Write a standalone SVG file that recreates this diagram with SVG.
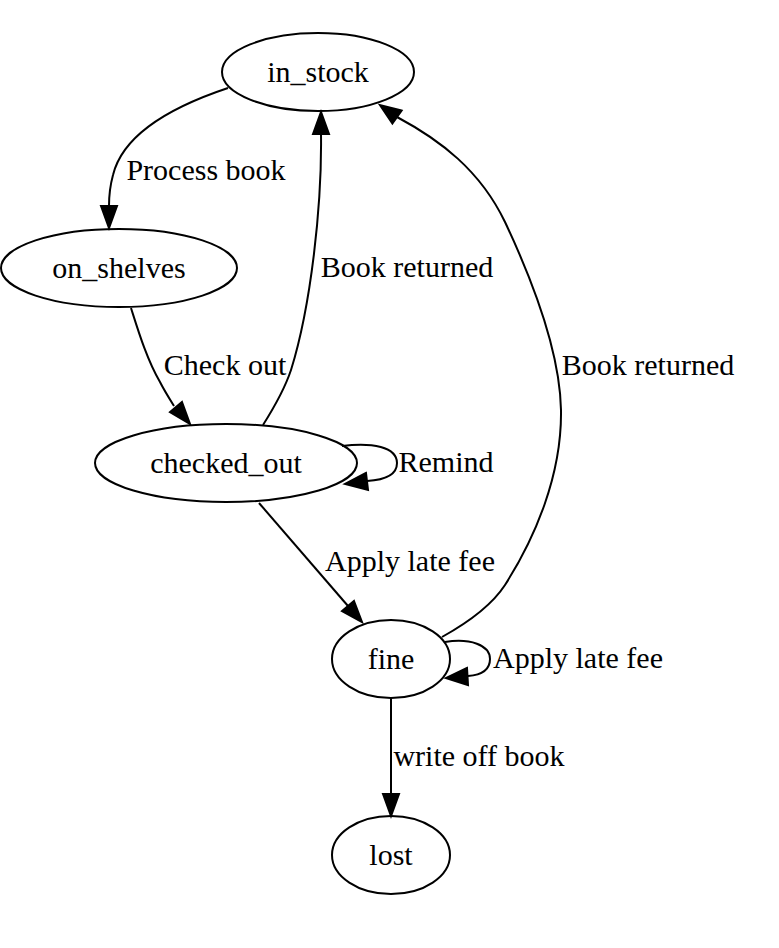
<svg xmlns="http://www.w3.org/2000/svg" width="779" height="948" viewBox="0 0 779 948">
<style>
.n ellipse{fill:none;stroke:#000;stroke-width:2}
text{font-family:'Times New Roman','Liberation Serif',Tinos,Times,'DejaVu Serif',serif;font-size:30px;fill:#000;text-anchor:middle}
.e path{fill:none;stroke:#000;stroke-width:2}
.e polygon{fill:#000;stroke:#000;stroke-width:2}
</style>
<rect width="779" height="948" fill="#fff"/>
<g id="in_stock" class="n"><ellipse cx="318" cy="72" rx="96" ry="39"/><text x="318" y="82">in_stock</text></g>
<g id="on_shelves" class="n"><ellipse cx="119" cy="268" rx="118" ry="39"/><text x="119" y="278">on_shelves</text></g>
<g id="checked_out" class="n"><ellipse cx="226" cy="463" rx="131" ry="39"/><text x="226" y="473">checked_out</text></g>
<g id="fine" class="n"><ellipse cx="391" cy="659" rx="59" ry="39"/><text x="391" y="669">fine</text></g>
<g id="lost" class="n"><ellipse cx="391" cy="855" rx="59" ry="39"/><text x="391" y="865">lost</text></g>
<g id="edges" class="e">
<path d="M228,88 C180,104 124,130 113,175 C110,186 109,196 109,206"/>
<polygon points="101,206 109,228 117,206"/>
<text x="206" y="180">Process book</text>
<path d="M131,308 C138,330 147,360 160,382 C164,390 169,398 174,406"/>
<polygon points="182,402 190,424 170,412"/>
<text x="225" y="375">Check out</text>
<path d="M263,425 C275,406 285,388 291,370 C311,306 322,205 321,134"/>
<polygon points="313,134 321,112 329,134"/>
<text x="407" y="277">Book returned</text>
<path d="M442,637 C460,627 490,608 505,585 C535,538 562,475 561,410 C560,355 537,290 505,222 C480,170 440,140 397,117"/>
<polygon points="401.6,110.5 380,105 392.4,123.5"/>
<text x="648" y="375">Book returned</text>
<path d="M342,446 C372,442 397,447 397,463 C397,475 384,480 367,481"/>
<polygon points="366,473 345,484 368,490"/>
<text x="446" y="472">Remind</text>
<path d="M259,503 L348,606"/>
<polygon points="354,601 362,622 342,611"/>
<text x="410" y="571">Apply late fee</text>
<path d="M445,642 C470,638 490,645 490,659 C490,670 481,675 468,676"/>
<polygon points="467,668 446,678 468,685"/>
<text x="578" y="668">Apply late fee</text>
<path d="M391,698 L391,794"/>
<polygon points="383,794 391,816 399,794"/>
<text x="479" y="766">write off book</text>
</g>
</svg>
